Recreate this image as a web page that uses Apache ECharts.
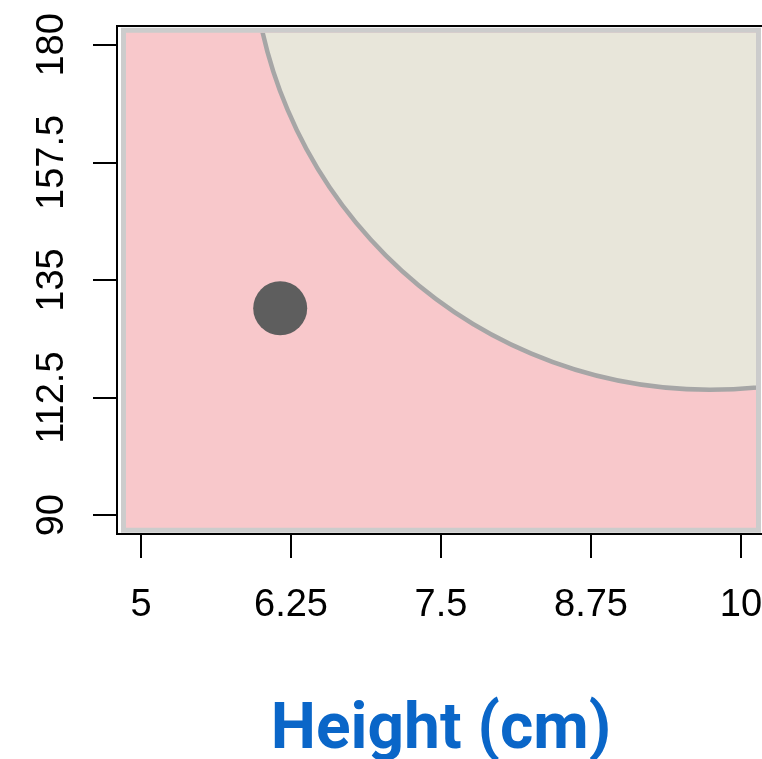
<!DOCTYPE html>
<html>
<head>
<meta charset="utf-8">
<script src="https://cdn.jsdelivr.net/npm/echarts@6/dist/echarts.min.js"></script>
<style>
  html, body { margin: 0; padding: 0; background: #ffffff; }
  #chart { width: 762px; height: 759px; }
</style>
</head>
<body>
<div id="chart"></div>
<script>
// Axis extents (data range padded by 4% on each side)
const xRange = [4.8, 10.2];
const yRange = [86.4, 183.6];
const xTicks = [5, 6.25, 7.5, 8.75, 10];
const yTicks = [90, 112.5, 135, 157.5, 180];

// Classified region: whole prediction grid, and the curved class boundary
const regionX = [4.854, 10.146];
const regionY = [87.1, 182.8];
const boundaryCentre = [9.74, 201.8];
const boundaryRadii = [3.82, 87.8];

// Observation
const points = [[6.16, 129.6]];

const colors = {
  outside: '#f8c8cb',
  inside: '#e8e6da',
  frame: '#cccccc',
  boundary: '#a6a6a6',
  point: '#5e5e5e',
  title: '#0a66c8'
};

const chart = echarts.init(document.getElementById('chart'), null, { renderer: 'canvas' });

const frameWidth = 5;

function renderRegion(params, api) {
  const tl = api.coord([regionX[0], regionY[1]]);
  const br = api.coord([regionX[1], regionY[0]]);
  const w = br[0] - tl[0];
  const h = br[1] - tl[1];
  const c = api.coord(boundaryCentre);
  const rx = api.size([boundaryRadii[0], 0])[0];
  const ry = api.size([0, boundaryRadii[1]])[1];
  const inset = frameWidth / 2;
  return {
    type: 'group',
    children: [
      {
        type: 'rect',
        shape: { x: tl[0], y: tl[1], width: w, height: h },
        style: { fill: colors.outside, stroke: null }
      },
      {
        type: 'ellipse',
        shape: { cx: c[0], cy: c[1], rx: rx, ry: ry },
        style: { fill: colors.inside, stroke: colors.boundary, lineWidth: 4.5 },
        clipPath: {
          type: 'rect',
          shape: { x: tl[0] + inset, y: tl[1] + inset, width: w - 2 * inset, height: h - 2 * inset }
        }
      },
      {
        type: 'rect',
        shape: { x: tl[0], y: tl[1], width: w, height: h },
        style: { fill: null, stroke: colors.frame, lineWidth: frameWidth }
      }
    ]
  };
}

const labelFont = {
  fontFamily: 'Liberation Sans, Arial, sans-serif',
  fontSize: 38,
  color: '#000000'
};

chart.setOption({
  animation: false,
  backgroundColor: '#ffffff',
  grid: {
    left: 117,
    top: 26,
    width: 648,
    height: 508,
    containLabel: false,
    outerBoundsMode: 'none',
    show: true,
    borderColor: '#000000',
    borderWidth: 2,
    backgroundColor: 'transparent'
  },
  xAxis: {
    type: 'value',
    min: xRange[0],
    max: xRange[1],
    name: 'Height (cm)',
    nameLocation: 'middle',
    nameGap: 166,
    nameTextStyle: {
      fontFamily: 'Roboto, sans-serif',
      fontWeight: 'bold',
      fontSize: 64,
      color: colors.title
    },
    axisLine: { show: false },
    splitLine: { show: false },
    axisTick: {
      show: true,
      length: 24,
      customValues: xTicks,
      lineStyle: { color: '#000000', width: 2 }
    },
    axisLabel: Object.assign({
      customValues: xTicks,
      margin: 53,
      hideOverlap: false,
      formatter: v => String(v)
    }, labelFont)
  },
  yAxis: {
    type: 'value',
    min: yRange[0],
    max: yRange[1],
    axisLine: { show: false },
    splitLine: { show: false },
    axisTick: {
      show: true,
      length: 24,
      customValues: yTicks,
      lineStyle: { color: '#000000', width: 2 }
    },
    axisLabel: Object.assign({
      customValues: yTicks,
      rotate: 90,
      margin: 45,
      hideOverlap: false,
      formatter: v => String(v)
    }, labelFont)
  },
  series: [
    {
      type: 'custom',
      renderItem: renderRegion,
      data: [[regionX[0], regionY[0]]],
      clip: true,
      z: 1,
      silent: true
    },
    {
      type: 'scatter',
      data: points,
      symbol: 'circle',
      symbolSize: 54,
      itemStyle: { color: colors.point, opacity: 1 },
      z: 3,
      silent: true
    }
  ]
});
</script>
</body>
</html>
